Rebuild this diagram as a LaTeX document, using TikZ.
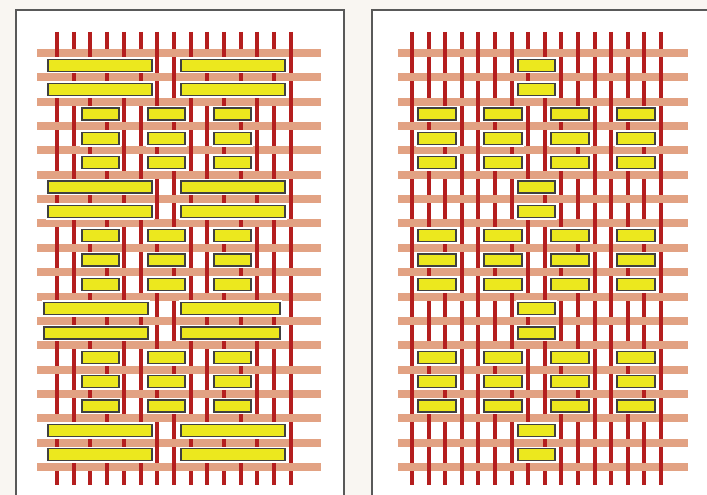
\documentclass[tikz,border=0pt]{standalone}
\usepackage{tikz}
\usepackage{xcolor}

\definecolor{paper}{HTML}{F9F6F2}
\definecolor{warpred}{HTML}{B41E1E}
\definecolor{wefttan}{HTML}{E2A283}
\definecolor{floatyellow}{HTML}{ECE81E}

\tikzset{
  panel/.style={draw=black!65, line width=1.2pt, fill=white},
  warp/.style={draw=warpred, line width=4pt},
  weft/.style={draw=wefttan, line width=8pt},
  float/.style={draw=black!75, fill=floatyellow, line width=1.3pt,
    preaction={draw=white, line width=4.5pt}}
}

\begin{document}
\begin{tikzpicture}[x=1pt,y=-1pt]
  \useasboundingbox (0,0) rectangle (707,495);
  \fill[paper] (0,0) rectangle (707,495);
  \draw[panel] (16,10) rectangle (344,510); % left panel
  \draw[panel] (372,10) rectangle (720,510); % right panel

  % left cloth
  \foreach \i in {0,...,14} \draw[warp] ({57+16.7*\i},32) -- ({57+16.7*\i},485);
  \foreach \j in {0,...,17} \draw[weft] (37,{53+24.35*\j}) -- (321,{53+24.35*\j});
  \foreach \i in {0,...,14} \foreach \j in {0,...,17} {
    \pgfmathtruncatemacro\odd{mod(\i+\j,2)}
    \ifnum\odd=0 \draw[warp] ({57+16.7*\i},{48+24.35*\j}) -- ({57+16.7*\i},{58+24.35*\j}); \fi % warp on top
  }
  \foreach \j/\a/\b/\c/\d in {0/48/152/181/285, 1/48/152/181/285, 5/48/152/181/285, 6/48/152/181/285,
      10/44/148/181/280, 11/44/148/181/280, 15/48/152/181/285, 16/48/152/181/285} {
    \pgfmathsetmacro\yc{65.2+24.35*\j}
    \draw[float] (\a,\yc-6) rectangle (\b,\yc+6); % long float
    \draw[float] (\c,\yc-6) rectangle (\d,\yc+6);
  }
  \foreach \j in {2,3,4,7,8,9,12,13,14} {
    \pgfmathsetmacro\yc{65.2+24.35*\j}
    \foreach \x in {82,148,214} \draw[float] (\x,\yc-6) rectangle (\x+37,\yc+6); % short float
  }

  % right cloth
  \foreach \i in {0,...,15} \draw[warp] ({412+16.6*\i},32) -- ({412+16.6*\i},485);
  \foreach \j in {0,...,17} \draw[weft] (398,{53+24.35*\j}) -- (688,{53+24.35*\j});
  \foreach \i in {0,...,15} \foreach \j in {0,...,17} {
    \pgfmathtruncatemacro\odd{mod(\i+\j,2)}
    \ifnum\odd=0 \draw[warp] ({412+16.6*\i},{48+24.35*\j}) -- ({412+16.6*\i},{58+24.35*\j}); \fi % warp on top
  }
  \foreach \j in {0,1,5,6,10,11,15,16} {
    \pgfmathsetmacro\yc{65.2+24.35*\j}
    \draw[float] (518,\yc-6) rectangle (555,\yc+6); % centre float
  }
  \foreach \j in {2,3,4,7,8,9,12,13,14} {
    \pgfmathsetmacro\yc{65.2+24.35*\j}
    \foreach \x in {418,484,551,617} \draw[float] (\x,\yc-6) rectangle (\x+38,\yc+6); % side float
  }
\end{tikzpicture}
\end{document}
